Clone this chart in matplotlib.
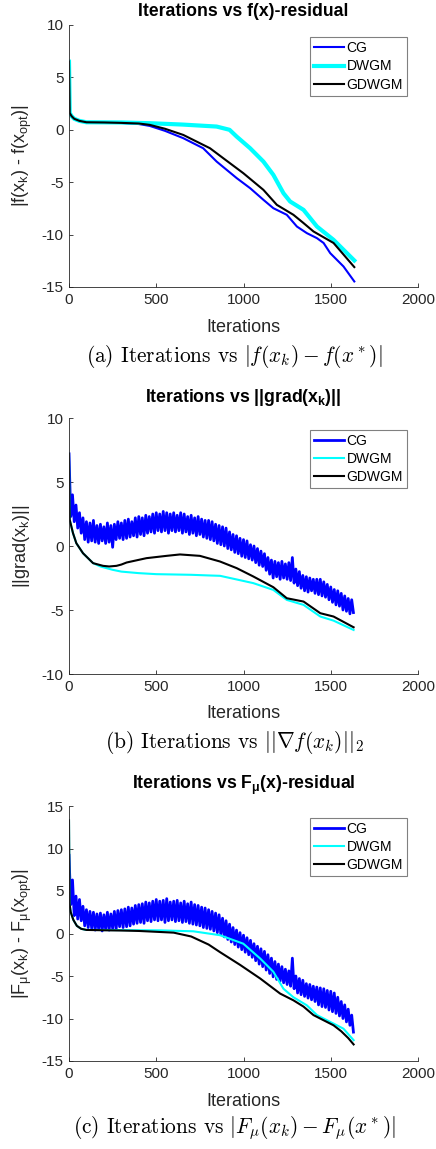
import matplotlib
matplotlib.use('Agg')

import numpy as np
import matplotlib.pyplot as plt

# ---------------- data ----------------
# panel (a): |f(x_k) - f(x_opt)|
a_cg_it = [0, 4, 15, 30, 60, 100, 200, 300, 400, 463, 550, 655, 769, 846, 961,
           1038, 1114, 1171, 1248, 1306, 1363, 1421, 1459, 1497, 1573, 1635]
a_cg_val = [6.5, 1.6, 1.3, 1.05, 0.85, 0.72, 0.68, 0.65, 0.55, 0.37, -0.1, -0.8,
            -1.76, -3.03, -4.61, -5.57, -6.68, -7.48, -8.11, -9.23, -9.86,
            -10.34, -10.8, -11.77, -13.04, -14.47]

a_dw_it = [0, 4, 15, 30, 60, 100, 300, 463, 650, 846, 920, 961, 1038, 1114,
           1171, 1229, 1267, 1344, 1421, 1516, 1554, 1635]
a_dw_val = [6.5, 1.6, 1.3, 1.05, 0.85, 0.72, 0.7, 0.63, 0.5, 0.31, 0.0, -0.65,
            -1.76, -3.03, -4.3, -6.05, -6.84, -7.64, -9.23, -10.5, -11.13, -12.47]

a_gd_it = [0, 4, 15, 30, 60, 100, 200, 300, 400, 463, 550, 655, 808, 884, 999,
           1114, 1191, 1286, 1344, 1401, 1516, 1573, 1635]
a_gd_val = [6.5, 1.6, 1.3, 1.05, 0.85, 0.72, 0.7, 0.66, 0.6, 0.47, 0.1, -0.49,
            -1.76, -2.71, -4.14, -5.73, -7.16, -8.11, -8.9, -9.7, -10.8, -11.9,
            -13.1]

# panel (b): ||grad(x_k)||, CG sampled every 10 iterations
noisy_it = np.arange(0, 1640, 10)
b_cg_val = [
    7.2, 2.3, 4.0, 1.9, 3.2, 1.4, 2.6, 1.0, 2.2, 0.5,
    1.9, 0.3, 1.8, 0.4, 2.0, 0.3, 1.6, 0.2, 1.7, 0.4,
    1.5, 0.2, 1.8, 0.3, 1.6, -0.1, 1.7, 0.5, 1.9, 0.6,
    1.8, 0.5, 2.0, 0.6, 2.1, 0.7, 1.9, 0.8, 2.2, 0.7,
    2.3, 0.9, 2.2, 0.8, 2.4, 1.0, 2.3, 1.1, 2.5, 1.0,
    2.6, 1.2, 2.5, 1.1, 2.7, 1.2, 2.6, 1.0, 2.5, 1.2,
    2.6, 1.1, 2.4, 1.2, 2.6, 1.0, 2.5, 1.1, 2.3, 0.9,
    2.4, 1.0, 2.2, 0.8, 2.3, 0.9, 2.1, 0.7, 2.0, 0.6,
    2.0, 0.5, 1.9, 0.4, 1.7, 0.2, 1.6, 0.1, 1.5, 0.0,
    1.4, -0.2, 1.1, -0.3, 0.9, -0.5, 0.8, -0.6, 0.6, -0.8,
    0.5, -0.9, 0.4, -1.0, 0.1, -1.1, 0.0, -1.3, -0.2, -1.5,
    -0.4, -1.6, -0.6, -1.9, -0.9, -2.2, -1.1, -2.5, -1.2, -2.4,
    -1.3, -2.6, -1.2, -2.5, -1.4, -2.6, -1.3, -2.7, -0.9, -2.9,
    -1.8, -3.1, -2.0, -3.3, -2.3, -3.5, -2.4, -3.6, -2.5, -3.5,
    -2.6, -3.7, -2.6, -3.8, -2.6, -3.9, -2.8, -4.0, -3.0, -4.2,
    -3.2, -4.4, -3.4, -4.6, -3.5, -4.7, -3.7, -5.0, -3.9, -5.1,
    -4.1, -5.3, -4.2, -5.2,
]

b_dw_it = [0, 2, 4, 23, 42, 80, 138, 180, 250, 300, 400, 500, 700, 800, 866,
           1056, 1171, 1248, 1344, 1440, 1516, 1631]
b_dw_val = [7.2, 4.0, 2.05, 1.0, 0.22, -0.56, -1.34, -1.6, -1.86, -2.0, -2.12,
            -2.2, -2.25, -2.3, -2.33, -2.9, -3.43, -4.21, -4.6, -5.51, -5.83,
            -6.56]

b_gd_it = [0, 2, 4, 23, 42, 80, 138, 195, 230, 272, 300, 330, 444, 559, 636,
           750, 865, 961, 1056, 1171, 1248, 1344, 1440, 1516, 1631]
b_gd_val = [7.2, 4.0, 2.05, 1.0, 0.22, -0.56, -1.34, -1.55, -1.6, -1.55, -1.45,
            -1.29, -0.95, -0.77, -0.66, -0.77, -1.21, -1.73, -2.38, -3.22,
            -4.08, -4.34, -5.25, -5.51, -6.35]

# panel (c): |F_mu(x_k) - F_mu(x_opt)|
c_cg_val = [
    9.2, 3.4, 6.3, 2.1, 4.4, 1.7, 4.0, 1.5, 3.2, 0.9,
    2.8, 0.7, 2.6, 0.6, 2.5, 0.4, 2.3, 0.5, 2.4, 0.3,
    2.2, 0.5, 2.5, 0.4, 2.3, 0.6, 2.6, 0.5, 2.7, 0.8,
    2.8, 0.7, 2.9, 0.8, 3.1, 0.9, 3.0, 1.1, 3.3, 1.2,
    3.4, 1.3, 3.5, 1.2, 3.7, 1.5, 3.6, 1.4, 3.8, 1.6,
    4.0, 1.5, 3.8, 1.6, 3.9, 1.3, 4.1, 1.5, 3.7, 1.6,
    3.8, 1.4, 3.9, 1.5, 3.6, 1.3, 3.8, 1.4, 3.5, 1.2,
    3.7, 1.1, 3.4, 1.0, 3.3, 0.9, 3.1, 0.7, 3.0, 0.6,
    2.8, 0.5, 2.6, 0.3, 2.4, 0.1, 2.2, -0.1, 1.8, -0.4,
    1.5, -0.7, 1.1, -1.0, 0.7, -1.3, 0.4, -1.6, 0.1, -1.9,
    -0.2, -2.2, -0.5, -2.5, -0.8, -2.8, -1.2, -3.2, -1.5, -3.6,
    -1.8, -3.9, -2.1, -4.3, -2.5, -4.7, -2.9, -5.1, -3.3, -5.4,
    -3.6, -5.6, -3.9, -5.8, -4.2, -6.0, -4.4, -6.2, -2.9, -6.5,
    -5.0, -7.0, -5.3, -7.2, -5.5, -7.4, -5.9, -7.6, -6.0, -7.8,
    -6.2, -8.0, -6.3, -8.4, -6.4, -8.6, -6.5, -8.7, -6.7, -9.0,
    -6.8, -9.2, -7.0, -9.4, -7.5, -9.7, -8.0, -10.0, -8.4, -10.4,
    -8.9, -10.8, -9.6, -11.6,
]

c_dw_it = [0, 3, 10, 25, 45, 70, 100, 300, 521, 712, 865, 999, 1096, 1171,
           1229, 1286, 1363, 1421, 1516, 1573, 1631]
c_dw_val = [13.3, 3.5, 2.5, 1.6, 0.9, 0.55, 0.42, 0.4, 0.37, 0.26, -0.2, -1.2,
            -2.95, -4.5, -6.5, -7.5, -8.45, -9.6, -10.6, -11.2, -12.55]

c_gd_it = [0, 3, 10, 25, 45, 70, 100, 200, 300, 400, 500, 600, 700, 800, 866,
           981, 1096, 1210, 1286, 1344, 1401, 1516, 1560, 1600, 1631]
c_gd_val = [13.3, 3.5, 2.5, 1.6, 0.9, 0.55, 0.42, 0.38, 0.35, 0.3, 0.2, 0.1,
            -0.35, -1.3, -2.2, -3.7, -5.3, -7.07, -7.86, -8.6, -9.6, -10.8,
            -11.5, -12.3, -13.05]

labels = ['CG', 'DWGM', 'GDWGM']
colors = ['#0000ff', '#00ffff', '#000000']

# ---------------- figure ----------------
plt.rcParams['font.family'] = ['Liberation Sans', 'DejaVu Sans']
plt.rcParams['axes.unicode_minus'] = False

W, H = 436, 1149
fig = plt.figure(figsize=(W / 100, H / 100), dpi=100)


def fy(px):
    return 1 - px / H


panels = [
    dict(top=25, bottom=287, ylim=(-15, 10), yticks=[-15, -10, -5, 0, 5, 10],
         title=r'Iterations vs f(x)-residual',
         ylabel=r'|f(x$_\mathregular{k}$) - f(x$_\mathregular{opt}$)|',
         series=[(a_cg_it, a_cg_val, 1.5), (a_dw_it, a_dw_val, 3.0),
                 (a_gd_it, a_gd_val, 1.5)],
         title_y=12, xl_y=327, cap_y=357,
         caption=r'(a) Iterations vs $|f(x_k) - f(x^*)|$'),
    dict(top=418, bottom=674, ylim=(-10, 10), yticks=[-10, -5, 0, 5, 10],
         title=r'Iterations vs ||grad(x$_\mathregular{k}$)||',
         ylabel=r'||grad(x$_\mathregular{k}$)||',
         series=[(noisy_it, b_cg_val, 2.0), (b_dw_it, b_dw_val, 1.5),
                 (b_gd_it, b_gd_val, 1.5)],
         title_y=398, xl_y=714, cap_y=743,
         caption=r'(b) Iterations vs $||\nabla f(x_k)||_2$'),
    dict(top=806, bottom=1061, ylim=(-15, 15),
         yticks=[-15, -10, -5, 0, 5, 10, 15],
         title=r'Iterations vs F$_\mathregular{μ}$(x)-residual',
         ylabel=r'|F$_\mathregular{μ}$(x$_\mathregular{k}$) - '
                r'F$_\mathregular{μ}$(x$_\mathregular{opt}$)|',
         series=[(noisy_it, c_cg_val, 2.0), (c_dw_it, c_dw_val, 1.5),
                 (c_gd_it, c_gd_val, 1.5)],
         title_y=785, xl_y=1101, cap_y=1128,
         caption=r'(c) Iterations vs $|F_\mu(x_k) - F_\mu(x^*)|$'),
]

left, right = 69, 418
for p in panels:
    ax = fig.add_axes([left / W, fy(p['bottom']), (right - left) / W,
                       (p['bottom'] - p['top']) / H])
    for (it, val, lw), lab, col in zip(p['series'], labels, colors):
        ax.plot(it, val, color=col, linewidth=lw, label=lab)

    ax.set_xlim(0, 2000)
    ax.set_ylim(*p['ylim'])
    ax.set_xticks([0, 500, 1000, 1500, 2000])
    ax.set_yticks(p['yticks'])
    ax.tick_params(direction='in', length=3, width=0.6, labelsize=11,
                   colors='#262626', pad=4)
    for side in ['top', 'right']:
        ax.spines[side].set_visible(False)
    for side in ['left', 'bottom']:
        ax.spines[side].set_color('#262626')
        ax.spines[side].set_linewidth(0.6)

    leg = ax.legend(loc='upper right', bbox_to_anchor=(0.9685, 0.954),
                    borderaxespad=0, fontsize=10, frameon=True, fancybox=False,
                    framealpha=1, edgecolor='#808080', handlelength=2.2,
                    handletextpad=0.15, labelspacing=0.3, borderpad=0.3)
    leg.get_frame().set_linewidth(0.8)

    cx = (left + right) / 2 / W
    fig.text(cx, fy(p['title_y']), p['title'], ha='center', va='center',
             fontsize=12.7, fontweight='bold')
    fig.text(cx, fy(p['xl_y']), 'Iterations', ha='center', va='center',
             fontsize=13, color='#262626')
    fig.text(22 / W, fy((p['top'] + p['bottom']) / 2), p['ylabel'],
             rotation=90, ha='center', va='center', fontsize=13,
             color='#262626')
    fig.text(234 / W, fy(p['cap_y']), p['caption'], ha='center', va='center',
             fontsize=15.4, family='cmr10', math_fontfamily='cm')

fig.savefig('out.png', dpi=100, facecolor='white')
